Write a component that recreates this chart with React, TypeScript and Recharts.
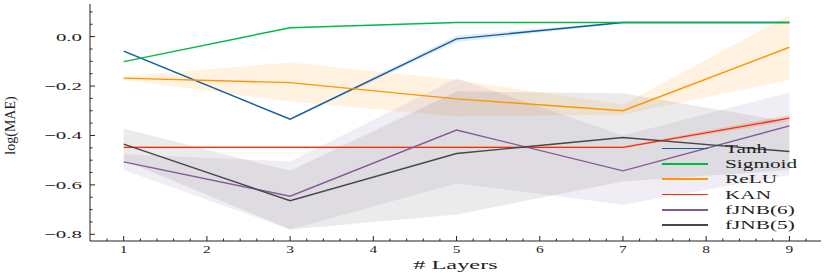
import React from 'react';
import { ComposedChart, Line, Area, XAxis, YAxis, Label } from 'recharts';

// # layers on the x axis
const layers = [1, 3, 5, 7, 9];

// mean log(MAE) per activation
const tanh = [-0.059, -0.334, -0.009, 0.057, 0.057];
const sigmoid = [-0.101, 0.036, 0.057, 0.057, 0.057];
const relu = [-0.168, -0.186, -0.252, -0.3, -0.043];
const kan = [-0.448, -0.448, -0.448, -0.448, -0.33];
const fjnb6 = [-0.507, -0.646, -0.378, -0.543, -0.361];
const fjnb5 = [-0.435, -0.664, -0.473, -0.408, -0.465];

// spread bands (low / high)
const tanhLo = [-0.062, -0.337, -0.022, 0.054, 0.054];
const tanhHi = [-0.056, -0.331, 0.004, 0.06, 0.06];
const reluLo = [-0.175, -0.263, -0.323, -0.315, -0.175];
const reluHi = [-0.16, -0.105, -0.175, -0.275, 0.088];
const kanLo = [-0.452, -0.452, -0.452, -0.452, -0.342];
const kanHi = [-0.444, -0.444, -0.444, -0.444, -0.318];
const fjnb6Lo = [-0.54, -0.78, -0.593, -0.68, -0.56];
const fjnb6Hi = [-0.476, -0.505, -0.168, -0.4, -0.226];
const fjnb5Lo = [-0.5, -0.78, -0.72, -0.586, -0.54];
const fjnb5Hi = [-0.372, -0.543, -0.222, -0.229, -0.345];

const xTicks = [0.8, 1, 1.2, 1.4, 1.6, 1.8, 2, 2.2, 2.4, 2.6, 2.8, 3, 3.2, 3.4, 3.6, 3.8, 4, 4.2, 4.4, 4.6, 4.8, 5, 5.2, 5.4, 5.6, 5.8, 6, 6.2, 6.4, 6.6, 6.8, 7, 7.2, 7.4, 7.6, 7.8, 8, 8.2, 8.4, 8.6, 8.8, 9, 9.2];
const yTicks = [-0.8, -0.75, -0.7, -0.65, -0.6, -0.55, -0.5, -0.45, -0.4, -0.35, -0.3, -0.25, -0.2, -0.15, -0.1, -0.05, 0, 0.05, 0.1];

const series = [
  { key: 'tanh', name: 'Tanh', color: '#0C5DA5' },
  { key: 'sigmoid', name: 'Sigmoid', color: '#00B945' },
  { key: 'relu', name: 'ReLU', color: '#FF9500' },
  { key: 'kan', name: 'KAN', color: '#FF2C00' },
  { key: 'fjnb6', name: 'fJNB(6)', color: '#845B97' },
  { key: 'fjnb5', name: 'fJNB(5)', color: '#474747' },
];

const bands = [
  { key: 'tanhBand', color: '#0C5DA5', op: 0.12 },
  { key: 'reluBand', color: '#FF9500', op: 0.12 },
  { key: 'kanBand', color: '#FF2C00', op: 0.15 },
  { key: 'fjnb6Band', color: '#845B97', op: 0.11 },
  { key: 'fjnb5Band', color: '#474747', op: 0.11 },
];

const data = layers.map((l, i) => ({
  layers: l,
  tanh: tanh[i],
  sigmoid: sigmoid[i],
  relu: relu[i],
  kan: kan[i],
  fjnb6: fjnb6[i],
  fjnb5: fjnb5[i],
  tanhBand: [tanhLo[i], tanhHi[i]],
  reluBand: [reluLo[i], reluHi[i]],
  kanBand: [kanLo[i], kanHi[i]],
  fjnb6Band: [fjnb6Lo[i], fjnb6Hi[i]],
  fjnb5Band: [fjnb5Lo[i], fjnb5Hi[i]],
}));

const FONT = '"Liberation Serif", "DejaVu Serif", serif';

const isMajorX = (v: number) => Math.abs(v - Math.round(v)) < 1e-6;
const isMajorY = (v: number) => Math.abs(v / 0.2 - Math.round(v / 0.2)) < 1e-6;
const fmtY = (v: number) => (Math.abs(v) < 1e-6 ? '0.0' : '\u2212' + Math.abs(v).toFixed(1));

const BottomTick = (props: any) => {
  const { x, y, payload } = props;
  const major = isMajorX(payload.value);
  return (
    <g>
      <line x1={x} x2={x} y1={y} y2={y - (major ? 5 : 2.5)} stroke="#222" strokeWidth={1} />
      {major && (
        <text
          x={x}
          y={y + 12}
          textAnchor="middle"
          fontSize={11}
          fontFamily={FONT}
          fill="#222"
          transform={`translate(${x} 0) scale(1.4 1) translate(${-x} 0)`}
        >
          {Math.round(payload.value)}
        </text>
      )}
    </g>
  );
};

const TopTick = (props: any) => {
  const { x, y, payload } = props;
  const major = isMajorX(payload.value);
  return <line x1={x} x2={x} y1={y} y2={y + (major ? 5 : 2.5)} stroke="#222" strokeWidth={1} />;
};

const LeftTick = (props: any) => {
  const { x, y, payload } = props;
  const major = isMajorY(payload.value);
  return (
    <g>
      <line x1={x} x2={x + (major ? 5 : 2.5)} y1={y} y2={y} stroke="#222" strokeWidth={1} />
      {major && (
        <text
          x={x - 8}
          y={y + 4}
          textAnchor="end"
          fontSize={11}
          fontFamily={FONT}
          fill="#222"
          transform={`translate(${x - 8} 0) scale(1.9 1) translate(${-(x - 8)} 0)`}
        >
          {fmtY(payload.value)}
        </text>
      )}
    </g>
  );
};

const RightTick = (props: any) => {
  const { x, y, payload } = props;
  const major = isMajorY(payload.value);
  return <line x1={x} x2={x - (major ? 5 : 2.5)} y1={y} y2={y} stroke="#222" strokeWidth={1} />;
};

const XLabel = (props: any) => {
  const vb = props.viewBox;
  const cx = vb.x + vb.width / 2;
  return (
    <text
      x={cx}
      y={vb.y + 28}
      textAnchor="middle"
      fontSize={12.5}
      fontFamily={FONT}
      fill="#222"
      transform={`translate(${cx} 0) scale(1.95 1) translate(${-cx} 0)`}
    >
      # Layers
    </text>
  );
};

const YLabel = (props: any) => {
  const vb = props.viewBox;
  const cy = vb.y + vb.height / 2 + 3;
  return (
    <text
      x={12}
      y={cy}
      textAnchor="middle"
      dominantBaseline="middle"
      fontSize={14}
      fontFamily={FONT}
      fill="#222"
      transform={`rotate(-90 12 ${cy})`}
    >
      log(MAE)
    </text>
  );
};

const LegendBox = () => (
  <div style={{ position: 'absolute', left: 662, top: 141, fontFamily: FONT, fontSize: 11.5, color: '#222' }}>
    {series.map((s) => (
      <div key={s.key} style={{ display: 'flex', alignItems: 'center', height: 15.3 }}>
        <div style={{ width: 46, height: 1.5, background: s.color, marginRight: 17 }} />
        <span style={{ display: 'inline-block', transform: 'scaleX(1.85)', transformOrigin: 'left center', whiteSpace: 'nowrap' }}>
          {s.name}
        </span>
      </div>
    ))}
  </div>
);

export default function App() {
  return (
    <div style={{ position: 'absolute', left: 0, top: 0, width: 830, height: 273, background: '#fff' }}>
      <ComposedChart width={830} height={273} data={data} margin={{ top: 4, right: 9, bottom: 0, left: 0 }}>
        <XAxis
          xAxisId="b"
          dataKey="layers"
          type="number"
          domain={[0.595, 9.38]}
          allowDataOverflow
          ticks={xTicks}
          interval={0}
          height={32}
          tickSize={0}
          tickMargin={0}
          tickLine={false}
          axisLine={{ stroke: '#222' }}
          tick={<BottomTick />}
        >
          <Label content={<XLabel />} />
        </XAxis>
        <XAxis
          xAxisId="t"
          orientation="top"
          dataKey="layers"
          type="number"
          domain={[0.595, 9.38]}
          allowDataOverflow
          ticks={xTicks}
          interval={0}
          height={0}
          tickSize={0}
          tickMargin={0}
          tickLine={false}
          axisLine={{ stroke: '#222' }}
          tick={<TopTick />}
        />
        <YAxis
          yAxisId="l"
          type="number"
          domain={[-0.827, 0.132]}
          allowDataOverflow
          ticks={yTicks}
          interval={0}
          width={90}
          tickSize={0}
          tickMargin={0}
          tickLine={false}
          axisLine={{ stroke: '#222' }}
          tick={<LeftTick />}
        >
          <Label content={<YLabel />} />
        </YAxis>
        <YAxis
          yAxisId="r"
          orientation="right"
          type="number"
          domain={[-0.827, 0.132]}
          allowDataOverflow
          ticks={yTicks}
          interval={0}
          width={0}
          tickSize={0}
          tickMargin={0}
          tickLine={false}
          axisLine={{ stroke: '#222' }}
          tick={<RightTick />}
        />
        {bands.map((b) => (
          <Area
            key={b.key}
            xAxisId="b"
            yAxisId="l"
            type="linear"
            dataKey={b.key}
            stroke="none"
            fill={b.color}
            fillOpacity={b.op}
            isAnimationActive={false}
            activeDot={false}
          />
        ))}
        {series.map((s) => (
          <Line
            key={s.key}
            xAxisId="b"
            yAxisId="l"
            type="linear"
            dataKey={s.key}
            name={s.name}
            stroke={s.color}
            strokeWidth={1.4}
            dot={false}
            activeDot={false}
            isAnimationActive={false}
          />
        ))}
      </ComposedChart>
      <LegendBox />
    </div>
  );
}
